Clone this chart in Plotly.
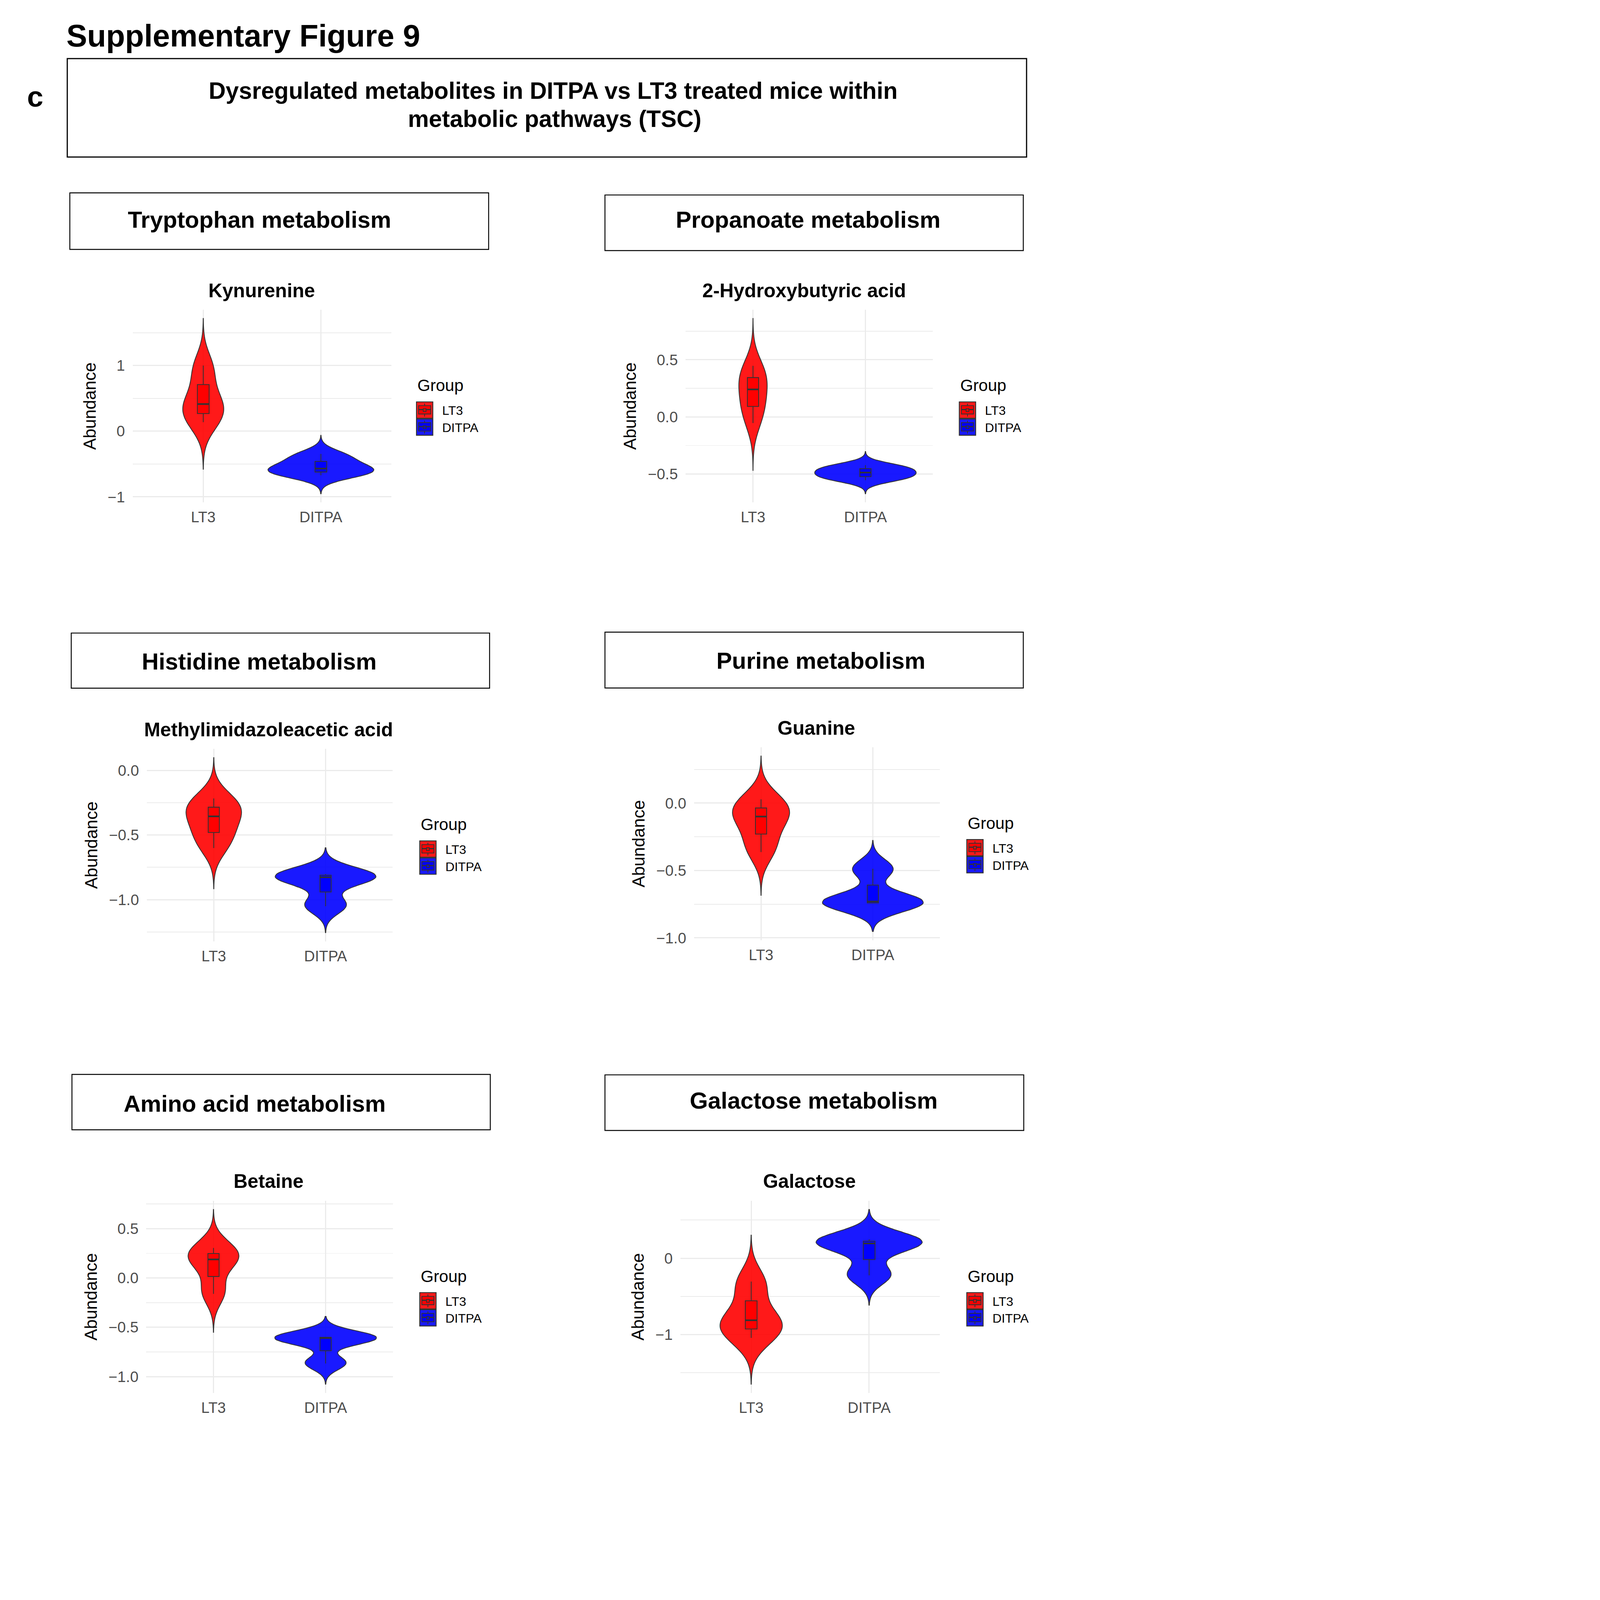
import numpy as np
import plotly.graph_objects as go

W0, H0 = 4724, 6850

# ---------------- data ----------------
groups = ["LT3", "DITPA"]
pathways = ["Tryptophan metabolism", "Propanoate metabolism", "Histidine metabolism",
            "Purine metabolism", "Amino acid metabolism", "Galactose metabolism"]
metabolites = ["Kynurenine", "2-Hydroxybutyric acid", "Methylimidazoleacetic acid",
               "Guanine", "Betaine", "Galactose"]

kynurenine_lt3 = [0.138, 0.200, 0.336, 0.413, 0.520, 0.900, 1.000]
kynurenine_ditpa = [-0.671, -0.640, -0.604, -0.569, -0.510, -0.408, -0.346]
hydroxybutyric_lt3 = [-0.053, 0.060, 0.124, 0.241, 0.320, 0.368, 0.447]
hydroxybutyric_ditpa = [-0.553, -0.530, -0.514, -0.486, -0.462, -0.442, -0.421]
methylimidazoleacetic_lt3 = [-0.601, -0.520, -0.442, -0.356, -0.300, -0.270, -0.217]
methylimidazoleacetic_ditpa = [-1.051, -1.034, -0.848, -0.827, -0.816, -0.806, -0.803]
guanine_lt3 = [-0.363, -0.300, -0.160, -0.100, -0.060, -0.012, 0.028]
guanine_ditpa = [-0.742, -0.742, -0.740, -0.730, -0.726, -0.490, -0.487]
betaine_lt3 = [-0.161, -0.120, 0.150, 0.188, 0.220, 0.276, 0.305]
betaine_ditpa = [-0.867, -0.855, -0.621, -0.609, -0.604, -0.600, -0.600]
galactose_lt3 = [-1.043, -0.960, -0.894, -0.812, -0.750, -0.364, -0.305]
galactose_ditpa = [-0.225, -0.205, 0.169, 0.194, 0.210, 0.238, 0.248]

lt3_values = [kynurenine_lt3, hydroxybutyric_lt3, methylimidazoleacetic_lt3,
              guanine_lt3, betaine_lt3, galactose_lt3]
ditpa_values = [kynurenine_ditpa, hydroxybutyric_ditpa, methylimidazoleacetic_ditpa,
                guanine_ditpa, betaine_ditpa, galactose_ditpa]

# KDE bandwidths
bandwidth_lt3 = [0.239, 0.138, 0.105, 0.107, 0.130, 0.202]
bandwidth_ditpa = [0.094, 0.0395, 0.068, 0.070, 0.070, 0.130]

ytick_step = [1.0, 0.5, 0.5, 0.5, 0.5, 1.0]
ytick_format = ["d", ".1f", ".1f", ".1f", ".1f", "d"]

# ---------------- layout geometry (reference px) ----------------
panel_x = [(568, 1676), (2935, 3994), (628, 1681), (2971, 4024), (626, 1682), (2913, 4024)]
panel_y = [(1331, 2160), (1331, 2160), (3219, 4046), (3212, 4041), (5161, 5987), (5161, 5987)]
title_x = [1120, 3443, 1150, 3495, 1150, 3465]
key_cx = [1818, 4142, 1832, 4174, 1832, 4174]
header_box = [(299, 829, 2092, 1072), (2590, 838, 4381, 1077), (305, 2721, 2096, 2958),
              (2590, 2717, 4381, 2957), (308, 4618, 2099, 4856), (2590, 4620, 4383, 4859)]
header_text = [(1111, 944), (3460, 944), (1110, 2842), (3514, 2839), (1090, 4744), (3484, 4731)]

fill = {"LT3": "rgba(255,0,0,0.9)", "DITPA": "rgba(0,0,255,0.9)"}
box_fill = {"LT3": "#FF0000", "DITPA": "#0000FF"}
OUT = "#333333"
FONT = "Liberation Sans, Arial, sans-serif"

LEG_FONT = 54
ITEM_W = 140
ITEM_H = LEG_FONT * 1.3 + 3       # plotly legend row pitch
KEY = 70


def px(x):
    return x / W0


def py(y):
    return 1 - y / H0


def rect(x0, y0, x1, y1, fc, lw, lc=OUT):
    return dict(type="rect", xref="paper", yref="paper", layer="above",
                x0=px(x0), x1=px(x1), y0=py(y1), y1=py(y0),
                line=dict(color=lc, width=lw), fillcolor=fc)


def seg(x0, y0, x1, y1, lw, lc=OUT):
    return dict(type="line", xref="paper", yref="paper", layer="above",
                x0=px(x0), x1=px(x1), y0=py(y0), y1=py(y1), line=dict(color=lc, width=lw))


fig = go.Figure()
layout = dict(
    width=W0, height=H0, margin=dict(l=0, r=0, t=0, b=0),
    paper_bgcolor="white", plot_bgcolor="white",
    font=dict(family=FONT, color="black"),
    violinmode="overlay", violingap=0.1, violingroupgap=0.0,
    boxmode="overlay", hovermode=False,
    annotations=[], shapes=[],
)

for i in range(6):
    k = i + 1
    sx = "" if k == 1 else str(k)
    xname, yname = "x" + sx, "y" + sx
    legname = "legend" + sx
    samples = {"LT3": np.array(lt3_values[i]), "DITPA": np.array(ditpa_values[i])}
    bws = {"LT3": bandwidth_lt3[i], "DITPA": bandwidth_ditpa[i]}

    lo_all, hi_all = [], []
    for g in groups:
        v = samples[g]
        bw = bws[g]
        span = [float(v.min() - 3 * bw), float(v.max() + 3 * bw)]
        lo_all.append(span[0])
        hi_all.append(span[1])
        fig.add_trace(go.Violin(
            x=[g] * len(v), y=v, name=g, legend=legname, legendgroup=g + sx,
            showlegend=True, xaxis=xname, yaxis=yname,
            bandwidth=bw, spanmode="manual", span=span,
            scalegroup="panel" + str(k), scalemode="width",
            fillcolor=fill[g], line=dict(color=OUT, width=3.5),
            points=False, box=dict(visible=False), meanline=dict(visible=False),
            hoverinfo="skip",
        ))
    for g in groups:
        v = samples[g]
        q1, med, q3 = np.percentile(v, [25, 50, 75])
        iqr = q3 - q1
        lw = float(v[v >= q1 - 1.5 * iqr].min())
        uw = float(v[v <= q3 + 1.5 * iqr].max())
        fig.add_trace(go.Box(
            x=[g], q1=[q1], median=[med], q3=[q3], lowerfence=[lw], upperfence=[uw],
            name=g, legendgroup=g + sx, showlegend=False, xaxis=xname, yaxis=yname,
            width=0.1, whiskerwidth=0, boxpoints=False,
            fillcolor=box_fill[g], line=dict(color=OUT, width=3.5), hoverinfo="skip",
        ))
        # thicker median bar (ggplot "fatten")
        fig.add_trace(go.Box(
            x=[g], q1=[med], median=[med], q3=[med], lowerfence=[med], upperfence=[med],
            name=g, legendgroup=g + sx, showlegend=False, xaxis=xname, yaxis=yname,
            width=0.1, whiskerwidth=0, boxpoints=False,
            fillcolor=box_fill[g], line=dict(color=OUT, width=7), hoverinfo="skip",
        ))

    lo, hi = min(lo_all), max(hi_all)
    pad = 0.05 * (hi - lo)
    (xl, xr), (yt, yb) = panel_x[i], panel_y[i]
    step = ytick_step[i]

    layout["xaxis" + sx] = dict(
        domain=[px(xl), px(xr)], anchor=yname, type="category",
        categoryorder="array", categoryarray=groups, range=[-0.6, 1.6],
        showgrid=True, gridcolor="#EBEBEB", gridwidth=5, zeroline=False, showline=False,
        ticks="", ticklen=0, ticklabelstandoff=20,
        tickfont=dict(size=64, color="#4D4D4D", family=FONT), fixedrange=True,
    )
    layout["yaxis" + sx] = dict(
        domain=[py(yb), py(yt)], anchor=xname, range=[lo - pad, hi + pad],
        tick0=0, dtick=step, tickformat=ytick_format[i],
        showgrid=True, gridcolor="#EBEBEB", gridwidth=5, zeroline=False, showline=False,
        minor=dict(tick0=0, dtick=step / 2, showgrid=True, gridcolor="#EBEBEB", gridwidth=2.5),
        ticks="", ticklen=0, ticklabelstandoff=32,
        tickfont=dict(size=65, color="#4D4D4D", family=FONT),
        title=dict(text="Abundance", font=dict(size=74, color="black", family=FONT), standoff=25),
        fixedrange=True,
    )

    # legend: plotly legend rows + ggplot-style key squares behind the legend symbols
    kc = key_cx[i]
    row0 = (yt + yb) / 2 + 17          # centre of first legend row
    layout[legname] = dict(
        x=px(kc - (ITEM_W + 10) / 2), y=py(row0 - ITEM_H / 2 - 5),
        xanchor="left", yanchor="top", xref="paper", yref="paper",
        font=dict(size=LEG_FONT, color="black", family=FONT), bgcolor="rgba(0,0,0,0)",
        itemwidth=ITEM_W, traceorder="normal", tracegroupgap=0,
    )
    layout["annotations"].append(dict(
        text="Group", x=px(kc - 33), y=py(row0 - 106), xref="paper", yref="paper",
        xanchor="left", yanchor="middle", showarrow=False,
        font=dict(size=71, color="black", family=FONT),
    ))
    for j, g in enumerate(groups):
        c = row0 + j * ITEM_H
        layout["shapes"].append(rect(kc - KEY / 2, c - KEY / 2, kc + KEY / 2, c + KEY / 2,
                                     fill[g], 4))
        layout["shapes"].append(seg(kc, c - 28, kc, c - 19, 3.5))
        layout["shapes"].append(seg(kc, c + 17, kc, c + 28, 3.5))
        layout["shapes"].append(rect(kc - 26, c - 19, kc + 26, c + 17, box_fill[g], 3.5))
        layout["shapes"].append(seg(kc - 26, c - 2, kc + 26, c - 2, 5))

    # plot title (metabolite)
    layout["annotations"].append(dict(
        text=metabolites[i], x=px(title_x[i]), y=py(yt - 83), xref="paper", yref="paper",
        xanchor="center", yanchor="middle", showarrow=False,
        font=dict(size=83, color="black", family=FONT, weight=700),
    ))
    # pathway header box and text
    bx0, by0, bx1, by1 = header_box[i]
    layout["shapes"].append(dict(
        type="rect", xref="paper", yref="paper", x0=px(bx0), x1=px(bx1), y0=py(by1), y1=py(by0),
        line=dict(color="black", width=4), fillcolor="rgba(0,0,0,0)",
    ))
    tx, ty = header_text[i]
    layout["annotations"].append(dict(
        text=pathways[i], x=px(tx), y=py(ty), xref="paper", yref="paper",
        xanchor="center", yanchor="middle", showarrow=False,
        font=dict(size=100, color="black", family=FONT, weight=700),
    ))

# figure-level texts
layout["annotations"] += [
    dict(text="Supplementary Figure 9", x=px(282), y=py(154), xref="paper", yref="paper",
         xanchor="left", yanchor="middle", showarrow=False,
         font=dict(size=133, color="black", family=FONT, weight=700)),
    dict(text="c", x=px(151), y=py(414), xref="paper", yref="paper",
         xanchor="center", yanchor="middle", showarrow=False,
         font=dict(size=125, color="black", family=FONT, weight=700)),
    dict(text="Dysregulated metabolites in DITPA vs LT3 treated mice within",
         x=px(2368), y=py(390), xref="paper", yref="paper", xanchor="center", yanchor="middle",
         showarrow=False, font=dict(size=101, color="black", family=FONT, weight=700)),
    dict(text="metabolic pathways (TSC)",
         x=px(2375), y=py(510), xref="paper", yref="paper", xanchor="center", yanchor="middle",
         showarrow=False, font=dict(size=101, color="black", family=FONT, weight=700)),
]
layout["shapes"].append(dict(
    type="rect", xref="paper", yref="paper", x0=px(288), x1=px(4395), y0=py(675), y1=py(252),
    line=dict(color="black", width=5), fillcolor="rgba(0,0,0,0)",
))

fig.update_layout(**layout)

# keep the page flush with the window; if the window is smaller than the
# figure, shrink the whole figure uniformly so that it stays fully visible
fit_script = """
(function(){
  var gd = document.getElementById('{plot_id}');
  document.documentElement.style.margin = '0';
  document.body.style.margin = '0';
  document.body.style.overflow = 'hidden';
  var W = %d, H = %d;
  var sc = Math.min(1, window.innerWidth / W, window.innerHeight / H);
  if (sc < 0.999) {
    gd.style.transformOrigin = '0 0';
    gd.style.transform = 'scale(' + sc + ')';
  }
})();
""" % (W0, H0)

fig.write_html("out.html", post_script=fit_script, config={"displayModeBar": False})
